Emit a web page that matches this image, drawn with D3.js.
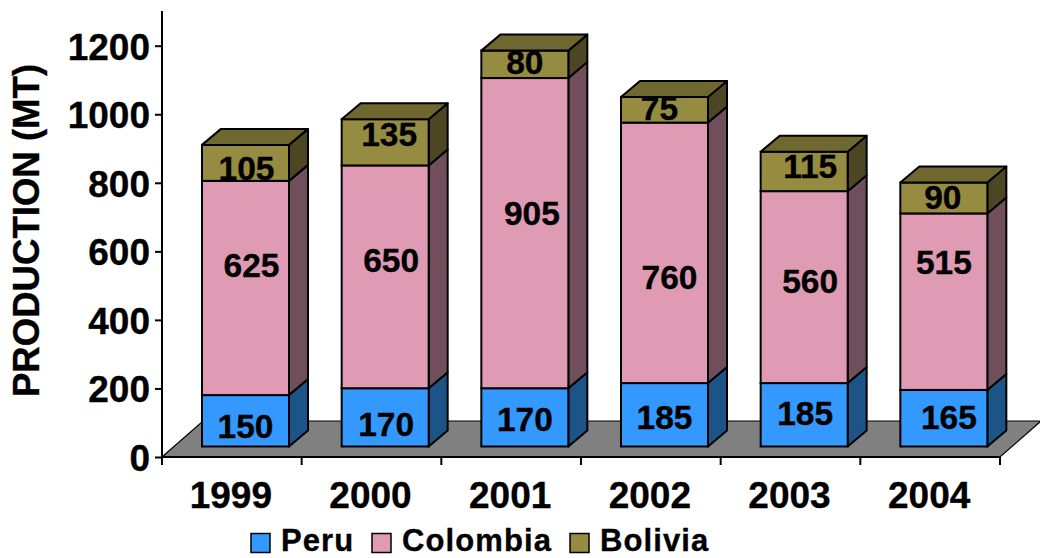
<!DOCTYPE html>
<html><head><meta charset="utf-8">
<style>html,body{margin:0;padding:0;background:#fff}svg{display:block}text{font-family:"Liberation Sans",Arial,sans-serif;font-weight:bold;fill:#000;stroke:#000;stroke-width:0.35px}</style>
<script src="https://cdn.jsdelivr.net/npm/d3@7/dist/d3.min.js"></script>
</head><body><script>
const years = ["1999","2000","2001","2002","2003","2004"];
const seriesNames = ["Peru","Colombia","Bolivia"];
const peru = [150,170,170,185,185,165];
const colombia = [625,650,905,760,560,515];
const bolivia = [105,135,80,75,115,90];
const yTicks = [0,200,400,600,800,1000,1200];
const colors = ["#3399FF","#DF9BB4","#968C41"];
const sideColors = ["#1C5488","#704E5B","#4C4722"];
const topColor = "#6E6830";
// hand placement of value labels, px from segment centre (as in the source chart)
const nudgeX = [[0,1,0,0,1,5],[6,6,7,5,6,0],[1,4,0,-5,6,-1]];
const nudgeY = [[5,7,2,2,-2,-1],[-23,-17,-20,24,-6,-40],[5,-8,-2,-2,-6,-1]];

const W=1040,H=558;
const svg=d3.select("body").append("svg").attr("width",W).attr("height",H);
const y=d3.scaleLinear().domain([0,1200]).range([457,45.7]);
const x=d3.scaleBand().domain(years).range([162,1000]);
const barW=87, barOff=40, dx=19, dy=16, baseLift=10.5;
const floor=[[162,457],[1000,457],[1041,421],[203,421]];
svg.append("polygon").attr("points",floor.join(" ")).attr("fill","#808080").attr("stroke","#000").attr("stroke-width",1.2);
svg.append("line").attr("x1",162).attr("x2",1000).attr("y1",457).attr("y2",457).attr("stroke","#000").attr("stroke-width",2);

const rows=years.map((yr,i)=>({year:yr,Peru:peru[i],Colombia:colombia[i],Bolivia:bolivia[i]}));
const stack=d3.stack().keys(seriesNames)(rows);
const Y=v=>y(v)-baseLift;
const lw=2;
years.forEach((yr,i)=>{
  const g=svg.append("g");
  const l=x(yr)+barOff, r=l+barW;
  stack.forEach((s,k)=>{
    const t=Y(s[i][1]), b=Y(s[i][0]);
    g.append("polygon").attr("points",[[r,b],[r+dx,b-dy],[r+dx,t-dy],[r,t]].join(" "))
      .attr("fill",sideColors[k]).attr("stroke","#000").attr("stroke-width",lw).attr("stroke-linejoin","round");
    g.append("rect").attr("x",l).attr("y",t).attr("width",barW).attr("height",b-t)
      .attr("fill",colors[k]).attr("stroke","#000").attr("stroke-width",lw);
    if(k===stack.length-1){
      g.append("polygon").attr("points",[[l,t],[l+dx,t-dy],[r+dx,t-dy],[r,t]].join(" "))
        .attr("fill",topColor).attr("stroke","#000").attr("stroke-width",lw).attr("stroke-linejoin","round");
    }
  });
});
stack.forEach((s,k)=>{
  years.forEach((yr,i)=>{
    const cx=x(yr)+barOff+barW/2+nudgeX[k][i];
    const cy=(Y(s[i][0])+Y(s[i][1]))/2+nudgeY[k][i];
    svg.append("text").attr("x",cx).attr("y",cy).attr("dy","0.36em").attr("text-anchor","middle")
      .style("font-size","33.5px").text(s[i].data[seriesNames[k]]);
  });
});

// y axis
const axY=svg.append("g").attr("transform","translate(162,0)")
  .call(d3.axisLeft(y).tickValues(yTicks).tickSize(7).tickPadding(5).tickFormat(d3.format("d")));
axY.select(".domain").remove();
axY.selectAll("line").attr("stroke","#000").attr("stroke-width",2);
axY.selectAll("text").attr("dy","0.36em").style("font-size","37px");
svg.append("line").attr("x1",162).attr("x2",162).attr("y1",11).attr("y2",465).attr("stroke","#000").attr("stroke-width",2);
// x axis
svg.selectAll(".xt").data(d3.range(years.length+1)).join("line").attr("class","xt")
  .attr("x1",i=>x.range()[0]+i*x.bandwidth()).attr("x2",i=>x.range()[0]+i*x.bandwidth())
  .attr("y1",457).attr("y2",465).attr("stroke","#000").attr("stroke-width",2);
svg.selectAll(".xl").data(years).join("text").attr("class","xl")
  .attr("x",d=>x(d)+x.bandwidth()/2-1).attr("y",508).attr("text-anchor","middle").style("font-size","37px").text(d=>d);
// title
svg.append("text").attr("transform","translate(38.5,230.5) rotate(-90)").attr("text-anchor","middle")
  .style("font-size","36.6px").text("PRODUCTION (MT)");
// legend
const legX=[251,372,570], legT=[281,402,600];
seriesNames.forEach((n,k)=>{
  svg.append("rect").attr("x",legX[k]).attr("y",533.5).attr("width",19).attr("height",19)
    .attr("fill",colors[k]).attr("stroke","#000").attr("stroke-width",1.5);
  svg.append("text").attr("x",legT[k]).attr("y",551).style("font-size","31px").style("letter-spacing","1.1px").text(n);
});
</script></body></html>
